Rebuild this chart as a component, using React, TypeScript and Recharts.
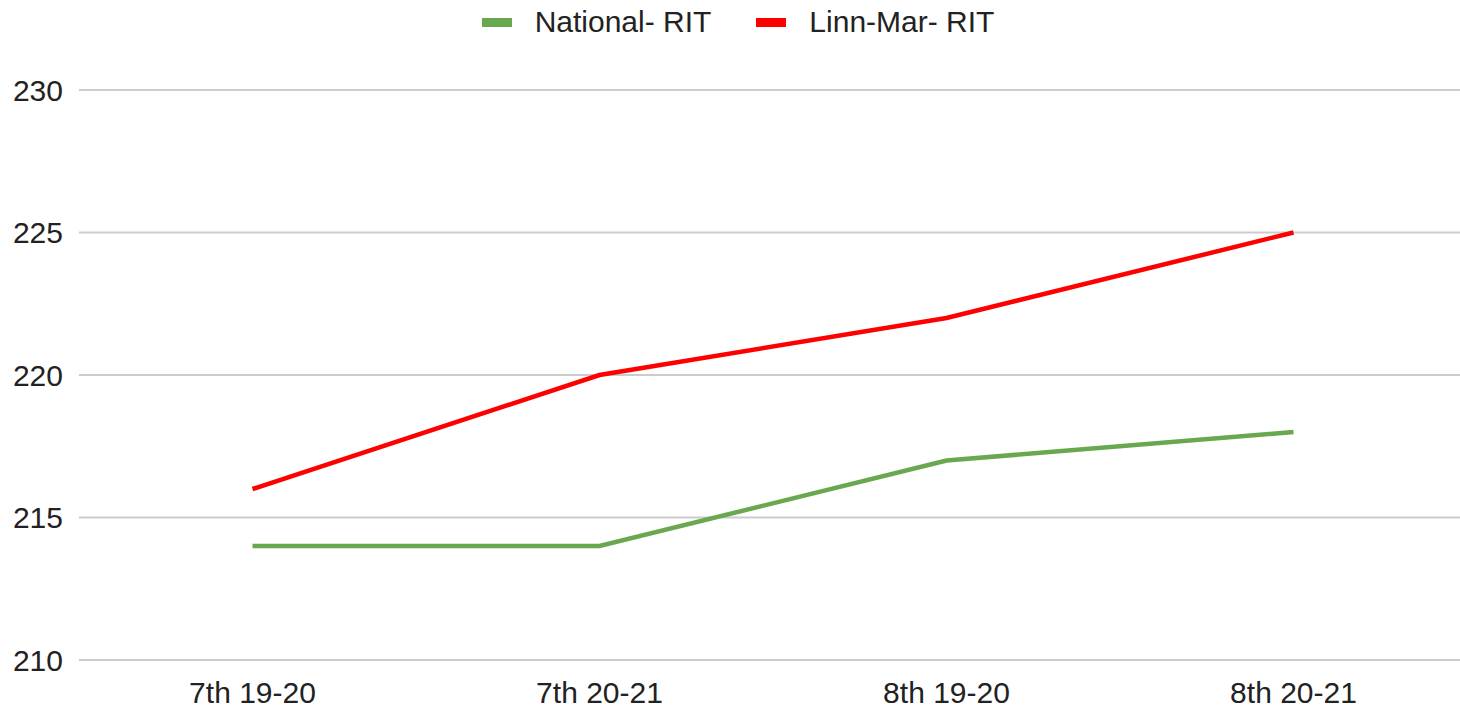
import React from 'react'
import { LineChart, Line, XAxis, YAxis, CartesianGrid, Legend } from 'recharts'

// grade / school-year groups on the x axis
const categories = ['7th 19-20', '7th 20-21', '8th 19-20', '8th 20-21']
const nationalRit = [214, 214, 217, 218]
const linnMarRit = [216, 220, 222, 225]
const yTicks = [210, 215, 220, 225, 230]

const series = [
  { key: 'national', name: 'National- RIT', color: '#6aa84f' },
  { key: 'linnMar', name: 'Linn-Mar- RIT', color: '#ff0000' },
]

const data = categories.map((label, i) => ({
  label,
  national: nationalRit[i],
  linnMar: linnMarRit[i],
}))

const FONT = '"Liberation Sans", Arial, sans-serif'

function TopLegend() {
  return (
    <div
      style={{
        display: 'flex',
        justifyContent: 'center',
        alignItems: 'center',
        gap: 45,
        height: 44,
        paddingLeft: 9,
        fontFamily: FONT,
        fontSize: 30,
        color: '#222',
      }}
    >
      {series.map(s => (
        <div key={s.key} style={{ display: 'flex', alignItems: 'center', gap: 23 }}>
          <div style={{ width: 30, height: 9, background: s.color }} />
          <span>{s.name}</span>
        </div>
      ))}
    </div>
  )
}

export default function App() {
  const tick = { fontFamily: FONT, fontSize: 30, fill: '#222' }
  return (
    <div style={{ position: 'absolute', left: 0, top: 0, width: 1460, height: 707, overflow: 'hidden', background: '#fff' }}>
      <LineChart
        width={1468}
        height={707}
        data={data}
        margin={{ top: 46, right: 1, left: 0, bottom: 0 }}
      >
        <Legend verticalAlign="top" align="center" content={() => <TopLegend />} wrapperStyle={{ top: 0 }} />
        <CartesianGrid vertical={false} stroke="#cccccc" strokeWidth={2} />
        <XAxis
          dataKey="label"
          scale="band"
          axisLine={false}
          tickLine={false}
          tick={tick}
          tickMargin={16}
          height={47}
          interval={0}
        />
        <YAxis
          domain={[210, 230]}
          ticks={yTicks}
          axisLine={false}
          tickLine={false}
          tick={tick}
          tickMargin={10}
          width={79}
        />
        {series.map(s => (
          <Line
            key={s.key}
            type="linear"
            dataKey={s.key}
            name={s.name}
            stroke={s.color}
            strokeWidth={4.5}
            dot={false}
            activeDot={false}
            isAnimationActive={false}
          />
        ))}
      </LineChart>
    </div>
  )
}
